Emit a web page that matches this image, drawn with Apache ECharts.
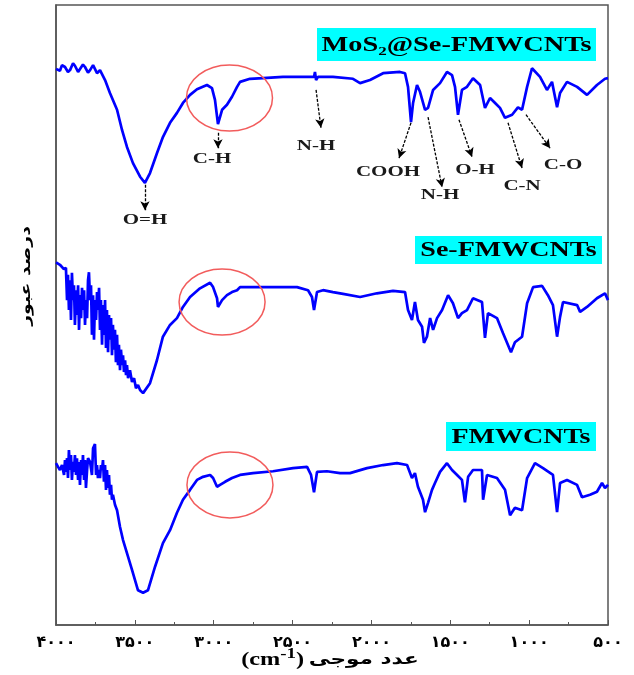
<!DOCTYPE html>
<html>
<head>
<meta charset="utf-8">
<script src="https://cdn.jsdelivr.net/npm/echarts@6/dist/echarts.min.js"></script>
<style>html,body{margin:0;padding:0;background:#fff;}#c{width:634px;height:675px;}</style>
</head>
<body>
<div id="c"></div>
<script>
// ---- axis ticks ----
const xTicks = [4000, 3500, 3000, 2500, 2000, 1500, 1000, 500];
const tickLabels = ['۴۰۰۰', '۳۵۰۰', '۳۰۰۰', '۲۵۰۰', '۲۰۰۰', '۱۵۰۰', '۱۰۰۰', '۵۰۰'];

// ---- series names ----
const seriesNames = ['MoS₂@Se-FMWCNTs', 'Se-FMWCNTs', 'FMWCNTs'];

// ---- MoS2@Se-FMWCNTs (wavenumber cm-1, transmittance a.u.) ----
const mosWn = [4000,3975,3962,3943,3924,3911,3892,3880,3860,3848,3829,3816,3797,3784,3765,3753,3740,3721,3689,3658,3613,3581,3550,3512,3467,3436,3404,3360,3322,3277,3233,3195,3150,3106,3043,3011,2992,2973,2947,2916,2884,2852,2833,2770,2687,2561,2389,2364,2358,2351,2339,2244,2117,2072,2009,1926,1819,1787,1768,1749,1736,1711,1692,1660,1641,1609,1565,1521,1489,1470,1451,1426,1394,1356,1311,1280,1248,1216,1185,1153,1108,1071,1045,1013,982,931,887,855,823,804,760,696,633,570,519,500];
const mosT  = [89.7,89.4,90.3,90.0,89.2,89.5,90.6,90.2,89.2,89.4,90.4,90.0,89.1,89.5,90.3,90.5,89.0,89.5,87.9,85.8,83.1,79.8,77.1,74.5,72.3,71.3,72.9,76.1,78.7,81.0,82.6,84.2,85.5,86.4,87.1,86.6,84.7,80.8,83.1,83.9,85.2,86.8,87.6,88.1,88.2,88.4,88.4,88.4,89.2,87.9,88.4,88.4,88.1,87.4,87.9,89.0,89.2,89.0,86.8,81.1,84.2,87.1,86.0,83.1,83.4,86.3,87.4,89.2,88.7,86.8,82.3,86.3,86.8,88.2,87.1,83.4,85.0,84.2,83.4,81.8,82.3,83.5,83.1,86.8,89.8,88.4,86.3,87.6,83.5,85.8,87.6,86.8,85.5,87.1,88.1,88.2];

// ---- Se-FMWCNTs ----
const seWn = [4000,3975,3950,3937,3930,3924,3918,3911,3905,3899,3892,3886,3880,3873,3867,3860,3854,3848,3841,3835,3829,3822,3816,3810,3803,3797,3791,3784,3778,3772,3765,3759,3753,3746,3740,3734,3727,3721,3715,3708,3702,3696,3689,3683,3677,3670,3664,3658,3651,3645,3639,3632,3626,3620,3613,3607,3601,3594,3588,3581,3575,3569,3562,3556,3550,3543,3531,3518,3505,3493,3480,3467,3448,3404,3360,3322,3277,3233,3195,3150,3087,3023,3004,2979,2973,2947,2916,2884,2852,2833,2725,2472,2402,2377,2364,2345,2307,2244,2180,2072,1965,1863,1787,1768,1743,1724,1705,1679,1667,1648,1628,1609,1584,1552,1514,1483,1451,1426,1394,1356,1299,1280,1261,1204,1166,1115,1090,1045,1013,975,918,881,849,823,804,785,696,677,633,570,519,500];
const seT  = [58.5,58.1,57.4,57.6,52.4,56.5,50.8,55.6,49.2,56.8,52.4,54.8,48.4,54.0,50.0,54.8,47.6,53.2,49.5,54.4,50.8,54.0,48.4,52.4,49.5,55.6,56.9,52.4,54.8,46.8,53.2,46.0,52.4,49.2,53.7,50.8,54.4,47.6,52.4,45.2,51.6,46.8,52.4,44.7,50.8,44.0,50.0,46.0,49.5,43.5,48.4,44.4,47.6,42.4,46.8,41.9,45.2,41.1,44.4,41.9,43.5,40.8,42.7,40.3,41.9,39.8,41.1,39.2,39.8,38.2,38.7,37.9,37.4,39.0,42.7,46.5,48.4,49.5,51.3,52.9,54.3,55.2,54.5,52.7,51.3,52.4,53.2,53.7,54.0,54.5,54.5,54.5,54.0,52.9,50.8,53.7,54.0,53.7,53.4,52.9,53.5,53.9,53.7,50.8,49.2,52.1,49.2,48.1,45.5,46.5,49.5,47.6,49.5,50.8,53.2,51.9,49.5,50.3,50.8,52.7,52.1,46.3,50.3,49.5,47.1,44.0,45.6,46.5,51.9,54.5,54.7,53.2,51.6,46.5,49.7,52.1,51.6,50.5,51.3,52.7,53.5,52.4];

// ---- FMWCNTs ----
const fWn = [4000,3987,3975,3962,3949,3943,3937,3930,3924,3918,3911,3905,3899,3892,3886,3880,3873,3867,3860,3854,3848,3841,3835,3829,3822,3816,3810,3803,3797,3784,3772,3765,3753,3746,3740,3734,3727,3721,3715,3708,3702,3696,3689,3683,3677,3670,3664,3658,3651,3645,3639,3626,3613,3594,3575,3550,3518,3480,3448,3417,3372,3322,3277,3233,3195,3150,3106,3068,3023,3004,2979,2960,2928,2884,2833,2751,2624,2497,2408,2383,2364,2345,2282,2199,2136,2028,1926,1838,1774,1743,1724,1705,1673,1660,1641,1616,1597,1565,1521,1489,1457,1426,1407,1387,1356,1299,1292,1267,1204,1153,1121,1090,1045,1013,963,912,849,823,804,760,696,665,614,570,538,519,500];
const fT  = [26.1,25.5,25.0,25.8,24.2,26.6,24.7,26.9,23.7,28.2,25.0,27.4,23.4,26.3,24.7,27.4,24.2,26.9,23.4,26.3,22.6,26.6,24.2,27.4,23.4,26.6,22.1,25.0,26.9,26.3,24.2,28.5,29.2,24.2,25.8,23.7,25.0,23.7,25.8,25.0,26.6,23.1,25.8,21.8,25.0,22.1,24.2,21.0,22.6,20.2,21.0,19.4,18.5,15.8,13.7,11.6,8.9,5.6,5.2,5.6,9.4,13.2,15.3,18.1,20.2,21.8,23.4,23.9,24.2,23.7,22.3,22.6,23.1,23.7,24.2,24.5,24.8,25.3,25.5,24.2,21.4,24.7,24.8,24.5,24.5,25.3,25.8,26.1,25.8,23.7,24.5,22.3,20.2,18.2,19.7,21.8,22.9,24.7,26.1,25.0,24.2,23.4,19.8,23.9,25.0,25.0,20.2,24.2,23.7,21.8,17.7,18.9,18.5,23.7,26.1,25.3,24.2,18.2,22.9,23.4,22.6,20.6,21.0,21.5,22.9,22.1,22.6];

// ---- band annotations on the top spectrum ----
const annLabels = ['O=H', 'C-H', 'N-H', 'COOH', 'N-H', 'O-H', 'C-N', 'C-O'];
const annFrom = [[3436,71.0],[2973,79.4],[2351,86.3],[1749,81.0],[1641,81.9],[1445,81.5],[1134,81.0],[1020,82.3]];
const annTo   = [[3436,66.9],[2973,76.9],[2320,80.2],[1825,75.3],[1552,70.6],[1362,75.5],[1045,73.7],[867,76.9]];
const annText = [[3436,65.3],[3011,75.2],[2351,77.3],[1895,73.1],[1565,69.4],[1343,73.4],[1045,70.8],[785,74.2]];

// ---- highlighted C-H regions (ellipse centres) ----
const circleCentres = [[2900,85.0],[2947,52.1],[2897,22.6]];

const axisLabel = 'عدد موجی';
const yLabel = 'درصد عبور';

function zip(a, b) { return a.map((v, i) => [v, b[i]]); }

const chart = echarts.init(document.getElementById('c'), null, {renderer: 'canvas'});
const lineStyle = {color: '#0000FF', width: 2.7};

const option = {
  animation: false,
  backgroundColor: '#fff',
  grid: {left: 56, right: 26, top: 5, bottom: 50, show: true, borderColor: '#555', borderWidth: 1.5},
  xAxis: {
    type: 'value', inverse: true, min: 500, max: 4000, interval: 500,
    axisLine: {show: true, lineStyle: {color: '#555', width: 1.5}},
    axisTick: {show: true, inside: true, length: 5, lineStyle: {color: '#555'}},
    minorTick: {show: true, splitNumber: 2, length: 3, lineStyle: {color: '#555'}},
    splitLine: {show: false},
    axisLabel: {
      margin: 10, color: '#000', fontFamily: 'DejaVu Sans', fontWeight: 'bold', fontSize: 16,
      formatter: v => { const i = xTicks.indexOf(v); return i >= 0 ? tickLabels[i] : ''; }
    }
  },
  yAxis: {
    type: 'value', min: 0, max: 100,
    axisLine: {show: true, lineStyle: {color: '#555', width: 1.5}},
    axisTick: {show: false}, axisLabel: {show: false}, splitLine: {show: false}
  },
  series: [
    {
      name: seriesNames[0], type: 'line', showSymbol: false, data: zip(mosWn, mosT), lineStyle,
      markLine: {
        silent: true, symbol: ['none', 'arrow'], symbolSize: [7, 9], animation: false,
        label: {show: false},
        lineStyle: {color: '#000', width: 1.3, type: [3, 1.5]},
        data: annFrom.map((f, i) => [{coord: f}, {coord: annTo[i]}])
      }
    },
    {name: seriesNames[1], type: 'line', showSymbol: false, data: zip(seWn, seT), lineStyle},
    {name: seriesNames[2], type: 'line', showSymbol: false, data: zip(fWn, fT), lineStyle}
  ]
};
chart.setOption(option);

const px = c => chart.convertToPixel({gridIndex: 0}, c);
const serif = 'Liberation Serif, Times New Roman, serif';
const graphic = [];

// ellipses
circleCentres.forEach(c => {
  const p = px(c);
  graphic.push({type: 'ellipse', shape: {cx: p[0], cy: p[1], rx: 43, ry: 33}, silent: true,
    style: {fill: 'none', stroke: '#F25C5C', lineWidth: 1.5}, z: 10});
});

// band labels
annText.forEach((c, i) => {
  const p = px(c);
  graphic.push({type: 'text', x: p[0], y: p[1], scaleX: 1.4, silent: true, z: 10,
    style: {text: annLabels[i], font: 'bold 15px ' + serif, fill: '#1a1a1a', align: 'center', verticalAlign: 'middle'}});
});

// legend boxes
const boxes = [
  {x: 317, y: 28, w: 279, h: 33, size: 21, sx: 1.35},
  {x: 415, y: 236, w: 187, h: 28, size: 20, sx: 1.4},
  {x: 446, y: 422, w: 150, h: 29, size: 20, sx: 1.4}
];
boxes.forEach((b, i) => {
  graphic.push({type: 'rect', shape: {x: b.x, y: b.y, width: b.w, height: b.h}, silent: true, z: 10,
    style: {fill: '#00FFFF'}});
  graphic.push({type: 'text', x: b.x + b.w / 2, y: b.y + b.h / 2 + 1, scaleX: b.sx, silent: true, z: 11,
    style: {text: seriesNames[i], font: 'bold ' + b.size + 'px ' + serif, fill: '#000', align: 'center', verticalAlign: 'middle'}});
});

// axis titles
graphic.push({type: 'text', x: 330, y: 660, scaleX: 1.35, silent: true, z: 10,
  style: {
    text: '{a|(cm}{b|-1}{a|)} {p|' + axisLabel + '}', align: 'center', verticalAlign: 'middle',
    rich: {
      a: {font: 'bold 18px ' + serif, fill: '#000'},
      b: {font: 'bold 14px ' + serif, fill: '#000', padding: [0, 0, 12, 0]},
      p: {font: 'bold 16px DejaVu Sans', fill: '#000'}
    }
  }});
graphic.push({type: 'text', x: 26, y: 276, rotation: Math.PI / 2, scaleX: 1.35, silent: true, z: 10,
  style: {text: yLabel, font: 'bold 14px DejaVu Sans', fill: '#000', align: 'center', verticalAlign: 'middle'}});

chart.setOption({graphic: graphic});
</script>
</body>
</html>
